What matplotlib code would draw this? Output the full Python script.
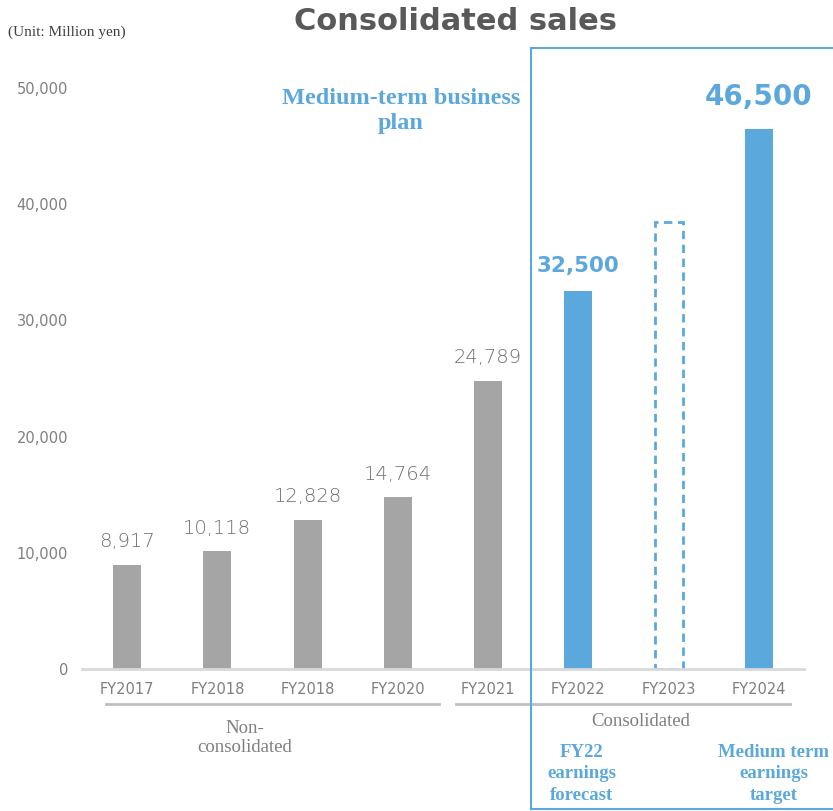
import matplotlib.pyplot as plt
from matplotlib.lines import Line2D

years = ['FY2017', 'FY2018', 'FY2018', 'FY2020', 'FY2021', 'FY2022', 'FY2023', 'FY2024']
sales = [8917, 10118, 12828, 14764, 24789, 32500, 38500, 46500]
value_labels = ['8,917', '10,118', '12,828', '14,764', '24,789', '32,500', '', '46,500']
kinds = ['actual', 'actual', 'actual', 'actual', 'actual', 'forecast', 'dashed', 'target']
yticks = [0, 10000, 20000, 30000, 40000, 50000]
ytick_labels = ['0', '10,000', '20,000', '30,000', '40,000', '50,000']

GRAY_BAR = '#a5a5a5'
BLUE = '#5ba8dd'
TXT_GRAY = '#7f7f7f'

fig = plt.figure(figsize=(8.33, 8.11), dpi=100)
ax = fig.add_axes([82 / 833, 1 - 669 / 811, 722 / 833, 581 / 811])

for i, (v, k) in enumerate(zip(sales, kinds)):
    if k == 'actual':
        ax.bar(i, v, width=0.31, color=GRAY_BAR)
    elif k == 'dashed':
        ax.bar(i, v, width=0.31, fill=False, edgecolor=BLUE, linestyle=(0, (3, 2)), linewidth=2)
    else:
        ax.bar(i, v, width=0.31, color=BLUE)

for i, (v, lab, k) in enumerate(zip(sales, value_labels, kinds)):
    if not lab:
        continue
    if k == 'actual':
        ax.annotate(lab, (i, v), xytext=(0, 10), textcoords='offset points', ha='center', va='bottom',
                    fontsize=14, color='#6f6f6f', family='DejaVu Sans', fontweight='light')
    elif k == 'forecast':
        ax.annotate(lab, (i, v), xytext=(0, 11), textcoords='offset points', ha='center', va='bottom',
                    fontsize=15.5, color=BLUE, fontweight='bold')
    else:
        ax.annotate(lab, (i, v), xytext=(0, 13), textcoords='offset points', ha='center', va='bottom',
                    fontsize=20, color=BLUE, fontweight='bold')

ax.set_xlim(-0.5, 7.5)
ax.set_ylim(0, 50000)
ax.set_xticks(range(len(years)))
ax.set_xticklabels(years, fontsize=10.5, color=TXT_GRAY)
ax.set_yticks(yticks)
ax.set_yticklabels(ytick_labels, fontsize=10.5, color=TXT_GRAY)
ax.tick_params(length=0)
ax.tick_params(axis='y', pad=10)
ax.tick_params(axis='x', pad=9)
for s in ['top', 'right', 'left']:
    ax.spines[s].set_visible(False)
ax.spines['bottom'].set_color('#d9d9d9')
ax.spines['bottom'].set_linewidth(2)

# group lines under the tick labels
fig.add_artist(Line2D([106 / 833, 439 / 833], [1 - 704 / 811] * 2, color='#bfbfbf', lw=2))
fig.add_artist(Line2D([456 / 833, 790 / 833], [1 - 704 / 811] * 2, color='#bfbfbf', lw=2))

# plan box
fig.add_artist(Line2D([531 / 833, 531 / 833], [1 - 48 / 811, 1 - 809 / 811], color=BLUE, lw=1.5))
fig.add_artist(Line2D([531 / 833, 1.0], [1 - 48 / 811] * 2, color=BLUE, lw=1.5))
fig.add_artist(Line2D([531 / 833, 1.0], [1 - 809 / 811] * 2, color=BLUE, lw=1.5))

serif = 'Liberation Serif'
fig.text(456 / 833, 1 - 22 / 811, 'Consolidated sales', ha='center', va='center',
         fontsize=22, fontweight='heavy', color='#595959')
fig.text(8 / 833, 1 - 32 / 811, '(Unit: Million yen)', ha='left', va='center',
         fontsize=11, family=serif, color='#404040')
fig.text(401 / 833, 1 - 111 / 811, 'Medium-term business\nplan', ha='center', va='center',
         fontsize=17.5, fontweight='bold', family=serif, color=BLUE, linespacing=1.2)
fig.text(245 / 833, 1 - 738 / 811, 'Non-\nconsolidated', ha='center', va='center',
         fontsize=13.5, family=serif, color=TXT_GRAY, linespacing=1.2)
fig.text(641 / 833, 1 - 722 / 811, 'Consolidated', ha='center', va='center',
         fontsize=13.5, family=serif, color=TXT_GRAY)
fig.text(582 / 833, 1 - 774 / 811, 'FY22\nearnings\nforecast', ha='center', va='center',
         fontsize=13.5, fontweight='bold', family=serif, color=BLUE, linespacing=1.32)
fig.text(774 / 833, 1 - 774 / 811, 'Medium term\nearnings\ntarget', ha='center', va='center',
         fontsize=13.5, fontweight='bold', family=serif, color=BLUE, linespacing=1.32)

fig.savefig('out.png', dpi=100)
